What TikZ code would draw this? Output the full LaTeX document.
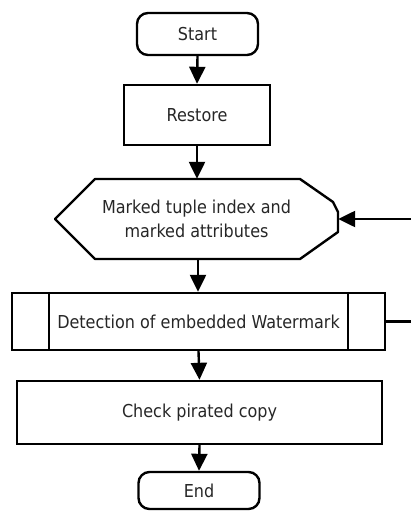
\documentclass[tikz,border=0pt]{standalone}
\usepackage{fontspec}
\setmainfont{DejaVu Sans Condensed}
\usetikzlibrary{arrows.meta,calc}
\begin{document}
\begin{tikzpicture}[x=1pt,y=-1pt,
  every node/.style={font=\fontsize{17.8}{24}\selectfont, text=black!85, align=center, inner sep=0pt},
  box/.style={draw, line width=2.4pt, minimum width=#1},
  term/.style={draw, line width=2.4pt, rounded corners=11pt, minimum width=121pt},
  flow/.style={line width=2.4pt, -{Triangle[width=16pt,length=17pt]}}
]
\useasboundingbox (0,0) rectangle (411,511);
% nodes
\node[term, minimum height=42pt] (start) at (197.5,34) {Start};
\node[box=146pt, minimum height=60pt] (restore) at (197,115) {Restore};
\node[minimum width=283pt, minimum height=80pt] (hex) at (196.5,219) {Marked tuple index and\\marked attributes};
\draw[line width=2.4pt, line join=round] (55,219) -- (95,179) -- (300,179) -- (333,202) -- (338,212) -- (338,232) -- (300,259) -- (95,259) -- cycle;
\node[box=373pt, minimum height=57pt] (det) at (198.5,321.5) {Detection of embedded Watermark};
\draw[line width=2.4pt] ($(det.north west)+(38,0)$) -- ($(det.south west)+(38,0)$)
                      ($(det.north east)+(-38,0)$) -- ($(det.south east)+(-38,0)$);
\node[box=365pt, minimum height=63pt] (check) at (199.5,412.5) {Check pirated copy};
\node[term, minimum height=37pt] (end) at (199,490.5) {End};
% connectors
\draw[flow] (start.south) -- (restore.north);
\draw[flow] (restore.south) -- (restore.south |- hex.north);
\draw[flow] (hex.south -| 198,0) -- (det.north -| 198,0);
\draw[flow] (det.south) -- (check.north);
\draw[flow] (check.south) -- (end.north);
\coordinate (loop) at (416,0);
\draw[flow] (det.east) -- (det.east -| loop) |- (hex.east);
\end{tikzpicture}
\end{document}
